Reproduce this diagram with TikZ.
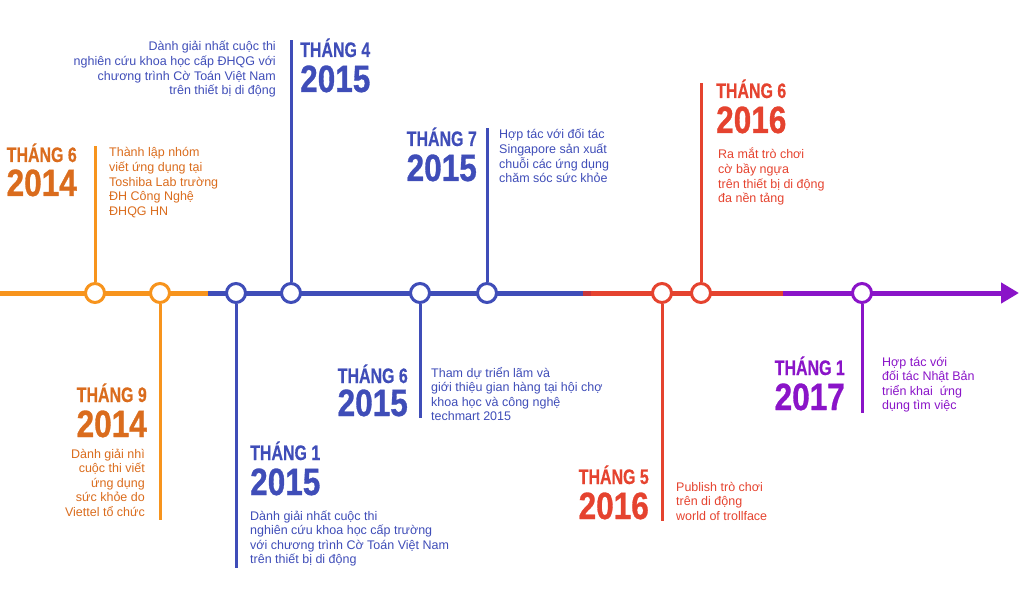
\documentclass[tikz,border=0pt]{standalone}
\usepackage{fontspec}
\setmainfont{Liberation Sans}
\newfontfamily\monfont[FakeStretch=0.76,FakeBold=0.5]{Liberation Sans}
\newfontfamily\yrfont[FakeStretch=0.83,FakeBold=0.8]{Liberation Sans}
\usetikzlibrary{arrows.meta,positioning}
\definecolor{tlorange}{HTML}{F7941D}
\definecolor{txorange}{HTML}{DA6C1D}
\definecolor{tlblue}{HTML}{3F4DB8}
\definecolor{tlred}{HTML}{E5432F}
\definecolor{tldred}{HTML}{C9363A}
\definecolor{tlpurple}{HTML}{8A14C8}

\begin{document}
\begin{tikzpicture}[
x=1pt,y=-1pt,
dot/.style={circle,draw,line width=3pt,fill=white,minimum size=19pt,inner sep=0pt},
stem/.style={line width=3pt},
bar/.style={line width=5pt},
mon/.style={font=\monfont\bfseries\fontsize{21}{21}\selectfont,inner sep=0pt},
yr/.style={font=\yrfont\bfseries\fontsize{38}{38}\selectfont,inner sep=0pt},
note/.style={font=\fontsize{12.5}{14.6}\selectfont,inner sep=0pt,align=left}
]
\useasboundingbox (0,0) rectangle (1030,612);
% timeline
\coordinate (t0) at (0,293);
\coordinate (t1) at (208,293);
\coordinate (t2) at (583,293);
\coordinate (t3) at (591,293);
\coordinate (t4) at (783,293);
\coordinate (t5) at (1019,293);
\draw[bar,tlorange] (t0) -- (t1);
\draw[bar,tlblue] (t1) -- (t2);
\draw[bar,tldred] (t2) -- (t3);
\draw[bar,tlred] (t3) -- (t4);
\draw[bar,tlpurple,-{Triangle[length=18pt,width=20pt]}] (t4) -- (t5);
% markers and stems
\foreach \n/\x/\y/\c in {a/95/146/tlorange,b/160/520/tlorange,c/236/568/tlblue,
d/291/40/tlblue,e/420/418/tlblue,f/487/128/tlblue,g/662/521/tlred,
h/701/83/tlred,i/862/413/tlpurple}{
\node[dot,draw=\c] (d\n) at (\x,293) {};
\coordinate (s\n) at (\x,\y);
\draw[stem,\c] (d\n) -- (s\n);
}
% 2014 (notes sit on their last baseline)
\node[mon,txorange,anchor=base east] (ma) at (77,162) {THÁNG 6};
\node[yr,txorange,anchor=base east]  (ya) at (77,196) {2014};
\node[note,txorange,anchor=base west] (na) at (109,215.4)
{Thành lập nhóm\\viết ứng dụng tại\\Toshiba Lab trường\\ĐH Công Nghệ\\ĐHQG HN};
\node[mon,txorange,anchor=base east] (mb) at (147,402) {THÁNG 9};
\node[yr,txorange,anchor=base east]  (yb) at (147,437) {2014};
\node[note,txorange,anchor=base east,align=right] (nb) at (145,516.4)
{Dành giải nhì\\cuộc thi viết\\ứng dụng\\sức khỏe do\\Viettel tổ chức};
% 2015
\node[mon,tlblue,anchor=base west] (mc) at (250,460) {THÁNG 1};
\node[yr,tlblue,anchor=base west]  (yc) at (250,495) {2015};
\node[note,tlblue,anchor=base west] (nc) at (250,563.8)
{Dành giải nhất cuộc thi\\nghiên cứu khoa học cấp trường\\với chương trình Cờ Toán Việt Nam\\trên thiết bị di động};
\node[mon,tlblue,anchor=base west] (md) at (300,57) {THÁNG 4};
\node[yr,tlblue,anchor=base west]  (yd) at (300,92) {2015};
\node[note,tlblue,anchor=base east,align=right] (nd) at (276,94.8)
{Dành giải nhất cuộc thi\\nghiên cứu khoa học cấp ĐHQG với\\chương trình Cờ Toán Việt Nam\\trên thiết bị di động};
\node[mon,tlblue,anchor=base east] (me) at (408,383) {THÁNG 6};
\node[yr,tlblue,anchor=base east]  (ye) at (408,416) {2015};
\node[note,tlblue,anchor=base west] (ne) at (431,420.8)
{Tham dự triển lãm và\\giới thiệu gian hàng tại hội chợ\\khoa học và công nghệ\\techmart 2015};
\node[mon,tlblue,anchor=base east] (mf) at (477,146) {THÁNG 7};
\node[yr,tlblue,anchor=base east]  (yf) at (477,181) {2015};
\node[note,tlblue,anchor=base west] (nf) at (499,182.8)
{Hợp tác với đối tác\\Singapore sản xuất\\chuỗi các ứng dụng\\chăm sóc sức khỏe};
% 2016
\node[mon,tlred,anchor=base east] (mg) at (649,484) {THÁNG 5};
\node[yr,tlred,anchor=base east]  (yg) at (649,519) {2016};
\node[note,tlred,anchor=base west] (ng) at (676,520.2)
{Publish trò chơi\\trên di động\\world of trollface};
\node[mon,tlred,anchor=base west] (mh) at (716,98) {THÁNG 6};
\node[yr,tlred,anchor=base west]  (yh) at (716,133) {2016};
\node[note,tlred,anchor=base west] (nh) at (718,202.8)
{Ra mắt trò chơi\\cờ bầy ngựa\\trên thiết bị di động\\đa nền tảng};
% 2017
\node[mon,tlpurple,anchor=base east] (mi) at (845,375) {THÁNG 1};
\node[yr,tlpurple,anchor=base east]  (yi) at (845,410) {2017};
\node[note,tlpurple,anchor=base west] (ni) at (882,409.8)
{Hợp tác với\\đối tác Nhật Bản\\triển khai\ \ ứng\\dụng tìm việc};
\end{tikzpicture}
\end{document}
